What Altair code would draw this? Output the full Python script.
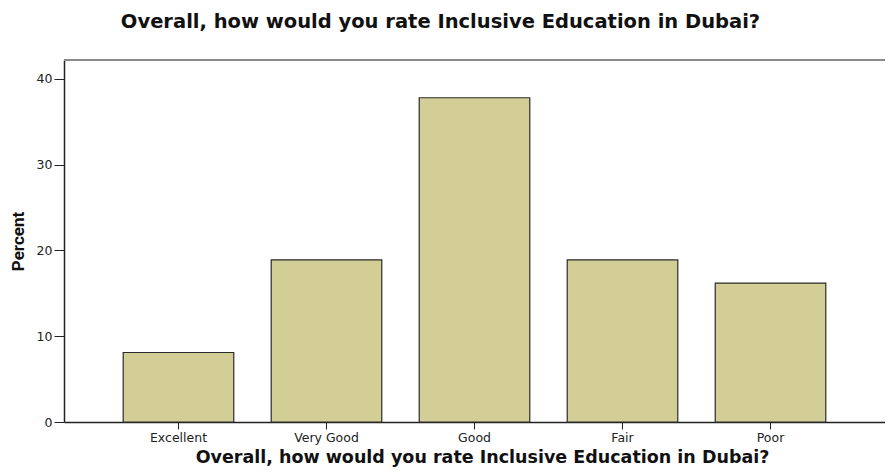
import altair as alt
import pandas as pd

categories = ["Excellent", "Very Good", "Good", "Fair", "Poor"]
percents = [8.1, 18.9, 37.8, 18.9, 16.2]
y_ticks = [0, 10, 20, 30, 40]
title_text = "Overall, how would you rate Inclusive Education in Dubai?"

df = pd.DataFrame({"rating": categories, "percent": percents})

W, H = 821, 362
YMAX = 42.2

bars = alt.Chart(df).mark_bar(
    fill="#D2CE96", stroke="#2b2b2b", strokeWidth=1.2
).encode(
    x=alt.X("rating:N", sort=categories,
            scale=alt.Scale(paddingInner=0.253, paddingOuter=0.4),
            axis=alt.Axis(title=title_text, labelAngle=0, labelFont="DejaVu Sans",
                          labelFontSize=12.5, labelColor="#222", labelPadding=2,
                          tickSize=7, tickColor="#222", domainColor="#222", domainWidth=1.5,
                          titleFont="DejaVu Sans", titleFontSize=17.5, titleFontWeight="bold",
                          titleColor="#111", titleX=418, titleY=40,
                          titleBaseline="alphabetic", titleAlign="center")),
    y=alt.Y("percent:Q", scale=alt.Scale(domain=[0, YMAX], nice=False),
            axis=alt.Axis(title="Percent", values=y_ticks, grid=False,
                          labelFont="DejaVu Sans", labelFontSize=12.5, labelColor="#222",
                          labelPadding=2, tickSize=10, tickColor="#222",
                          domainColor="#222", domainWidth=1.5,
                          titleFont="Roboto", titleFontSize=17,
                          titleFontWeight="bold", titleColor="#111",
                          titleX=-41, titleBaseline="alphabetic")),
)

top_border = alt.Chart(pd.DataFrame({"v": [YMAX]})).mark_rule(
    color="#8a8a8a", strokeWidth=2
).encode(y=alt.Y("v:Q", scale=alt.Scale(domain=[0, YMAX], nice=False)))

chart = alt.layer(bars, top_border).properties(
    width=W, height=H,
    autosize=alt.AutoSizeParams(type="none"),
    padding={"left": 56, "top": 52, "right": 0, "bottom": 45},
    title=alt.TitleParams(title_text, font="DejaVu Sans", fontSize=19.5,
                          fontWeight="bold", color="#111", anchor="middle",
                          dx=-34, offset=27),
).configure_view(fill="#EEEFF2", stroke=None).configure(background="white")

chart.save("out.html", embed_options={"renderer": "svg", "actions": False})
